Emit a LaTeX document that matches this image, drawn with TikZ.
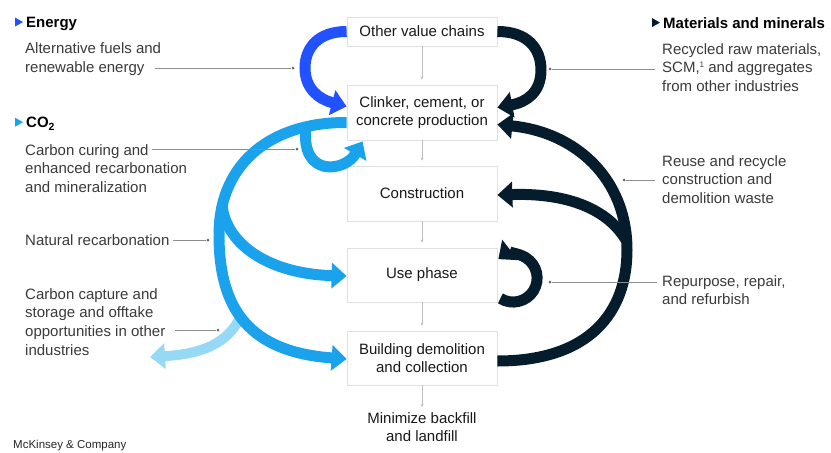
\documentclass[tikz,border=0pt]{standalone}
\usepackage{fontspec}
\setmainfont{Liberation Sans}
\usetikzlibrary{arrows.meta}

\definecolor{energyblue}{HTML}{2251FF}
\definecolor{cotwo}{HTML}{1AA3EC}
\definecolor{cotwolight}{HTML}{95D9F7}
\definecolor{deepnavy}{HTML}{051C2C}
\definecolor{notegray}{HTML}{3A3A3A}
\definecolor{leadergray}{HTML}{8C8C8C}
\definecolor{boxline}{HTML}{E0E0E0}

% small triangle in front of a heading
\newcommand{\headmark}[2]{\fill[#1,shift={(#2.base west)}] (-11,1) -- (-3,5.5) -- (-11,10) -- cycle;}
% footnote mark
\newcommand{\fnmark}[1]{\raisebox{5pt}{\fontsize{8}{8}\selectfont #1}}

\begin{document}
\begin{tikzpicture}[x=1pt,y=1pt,
  stage/.style={draw=boxline,line width=0.8pt,fill=white,minimum width=150pt,align=center,
    font=\fontsize{15}{18.5}\selectfont,text=black!90},
  note/.style={anchor=north west,inner sep=0pt,align=left,text=notegray,
    font=\fontsize{15}{18.8}\selectfont},
  heading/.style={anchor=north west,inner sep=0pt,font=\fontsize{15}{18}\selectfont\bfseries},
  flow/.style={draw=black!25,line width=0.6pt,-{Stealth[length=3pt,width=3pt]},shorten >=5pt},
  band/.style={line width=11pt,-{Triangle[length=15pt,width=25pt]}},
  leader/.style={draw=leadergray,line width=0.7pt},
  pin/.style={circle,fill=black!60,inner sep=0pt,minimum size=3pt},
]
\useasboundingbox (0,0) rectangle (831,-453);

% value chain stages
\node[stage,minimum height=29pt] (chains) at (422,-31.5) {Other value chains};
\node[stage,minimum height=55pt] (clinker) at (422,-112.5) {Clinker, cement, or\\concrete production};
\node[stage,minimum height=55pt] (build) at (422,-193.5) {Construction};
\node[stage,minimum height=54pt] (use) at (422,-275) {Use phase};
\node[stage,minimum height=54pt] (demolish) at (422,-358) {Building demolition\\and collection};
\node[anchor=north,inner sep=0pt,align=center,font=\fontsize{15}{18}\selectfont,text=black!90]
  (landfill) at (422,-412) {Minimize backfill\\and landfill};

\foreach \a/\b in {chains/clinker,clinker/build,build/use,use/demolish,demolish/landfill}
  \draw[flow] (\a.south) -- (\b.north);

% energy loop
\draw[band,energyblue] (chains.west) .. controls (318,-31.5) and (305,-48) .. (305,-68)
  .. controls (305,-88) and (318,-99) .. ([yshift=6pt]clinker.west);

% materials loop
\draw[band,deepnavy] (chains.east) .. controls (527,-31.5) and (541,-48) .. (541,-70)
  .. controls (541,-92) and (527,-102) .. ([yshift=5pt]clinker.east);

% CO2 streams
\coordinate (ccsfork) at (242,-314);
\coordinate (usefork) at (222,-205);
\coordinate (curefork) at (306,-127);
\draw[band,cotwolight,line width=10pt] (ccsfork) .. controls (228,-345) and (200,-354) .. (150,-357);
\draw[band,cotwo] ([yshift=-10pt]clinker.west) .. controls (275,-122) and (219,-160) .. (219,-235)
  .. controls (219,-310) and (250,-352) .. ([yshift=-1pt]demolish.west);
\draw[band,cotwo] (usefork) .. controls (226,-245) and (270,-274) .. ([yshift=-1pt]use.west);
\draw[band,cotwo] (curefork) .. controls (300,-178) and (345,-172) .. ([xshift=16pt,yshift=-1pt]clinker.south west);

% reuse and recycle
\coordinate (reusefork) at (626,-240);
\draw[band,deepnavy] ([yshift=-3pt]demolish.east) .. controls (590,-361) and (627,-312) .. (627,-250)
  .. controls (627,-178) and (575,-132) .. ([yshift=-12pt]clinker.east);
\draw[band,deepnavy] (reusefork) .. controls (605,-205) and (560,-193) .. ([yshift=-1.5pt]build.east);
\draw[band,deepnavy] ([xshift=3pt,yshift=4pt]use.south east) arc[start angle=-122,end angle=128,radius=24];

% left column
\node[heading] (energyhead) at (26,-17) {Energy};
\headmark{energyblue}{energyhead}
\node[note] (energynote) at (25,-42.5) {Alternative fuels and\\renewable energy};
\node[heading] (cotwohead) at (26,-117) {CO\textsubscript{2}};
\headmark{cotwo}{cotwohead}
\node[note] (curingnote) at (25,-144) {Carbon curing and\\enhanced recarbonation\\and mineralization};
\node[note] (naturalnote) at (25,-234) {Natural recarbonation};
\node[note] (capturenote) at (25,-288) {Carbon capture and\\storage and offtake\\opportunities in other\\industries};
\node[anchor=north west,inner sep=0pt,font=\fontsize{11.5}{13}\selectfont,text=black!85]
  (brand) at (13,-440) {McKinsey \& Company};

% right column
\node[heading] (materialshead) at (663,-17) {Materials and minerals};
\headmark{deepnavy}{materialshead}
\node[note] (recyclednote) at (662,-43) {Recycled raw materials,\\SCM,\fnmark{1} and aggregates\\from other industries};
\node[note] (reusenote) at (662,-155) {Reuse and recycle\\construction and\\demolition waste};
\node[note] (repurposenote) at (662,-275) {Repurpose, repair,\\and refurbish};

% leader lines
\foreach \from/\to/\ly [count=\i] in {155/293/68,152/297/149,173/208/240,175/218/330,655/550/69,655/624/180,657/550/282} {
  \coordinate (lead\i) at (\from,-\ly);
  \node[pin] (pin\i) at (\to,-\ly) {};
  \draw[leader] (lead\i) -- (pin\i);
}
\end{tikzpicture}
\end{document}
